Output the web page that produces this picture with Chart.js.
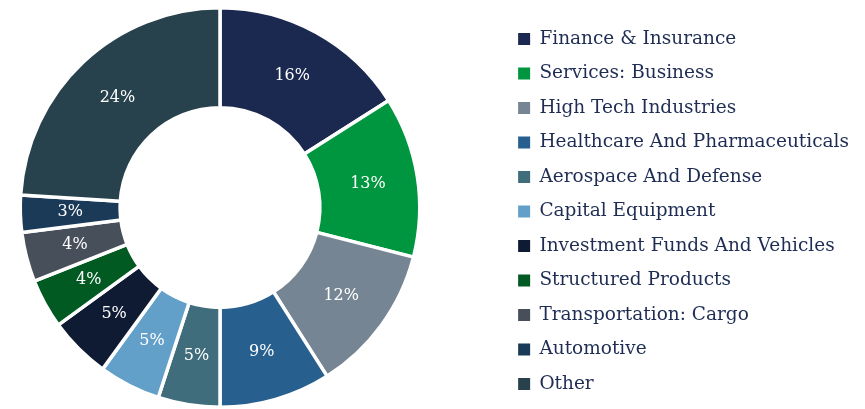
<!DOCTYPE html>
<html>
<head>
<meta charset="utf-8">
<script src="https://cdn.jsdelivr.net/npm/chart.js@4.4.1/dist/chart.umd.min.js"></script>
<style>
    html, body { margin: 0; padding: 0; background: #ffffff; }
    #wrap { width: 865px; height: 409px; }
</style>
</head>
<body>
<div id="wrap"><canvas id="myChart" width="865" height="409"></canvas></div>
<script>
var sectors = [
    "Finance & Insurance",
    "Services: Business",
    "High Tech Industries",
    "Healthcare And Pharmaceuticals",
    "Aerospace And Defense",
    "Capital Equipment",
    "Investment Funds And Vehicles",
    "Structured Products",
    "Transportation: Cargo",
    "Automotive",
    "Other"
];
var shares = [16, 13, 12, 9, 5, 5, 5, 4, 4, 3, 24];
var colors = [
    "#1b2951", "#00963f", "#768593", "#27608f", "#3f6d7b", "#62a0ca",
    "#0f1a33", "#005a22", "#474f5a", "#1b3a58", "#28424d"
];

// keep the ring on the left half, nudge the legend down a little
var ringArea = {
    id: "ringArea",
    afterLayout: function (chart) {
        var a = chart.chartArea;
        a.left = 0;
        a.right = 440;
        a.width = 440;
        chart.legend.top += 4;
        chart.legend.bottom += 4;
    }
};

var sliceLabels = {
    id: "sliceLabels",
    afterDatasetsDraw: function (chart) {
        var ctx = chart.ctx;
        var meta = chart.getDatasetMeta(0);
        ctx.save();
        ctx.fillStyle = "#ffffff";
        ctx.font = "16px 'DejaVu Serif'";
        ctx.textAlign = "center";
        ctx.textBaseline = "middle";
        meta.data.forEach(function (arc, i) {
            var p = arc.tooltipPosition();
            ctx.fillText(shares[i] + "%", p.x, p.y);
        });
        ctx.restore();
    }
};

var baseLabels = Chart.overrides.doughnut.plugins.legend.labels.generateLabels;

var myChart = document.getElementById("myChart").getContext("2d");
var chart = new Chart(myChart, {
    type: "doughnut",
    data: {
        labels: sectors,
        datasets: [
            {
                data: shares,
                backgroundColor: colors,
                borderColor: "#ffffff",
                borderWidth: 3.5,
                hoverOffset: 0
            }
        ]
    },
    options: {
        responsive: false,
        animation: false,
        cutout: "50%",
        layout: {
            padding: { left: 0, right: 6, top: 6, bottom: 0 }
        },
        plugins: {
            tooltip: { enabled: false },
            legend: {
                position: "right",
                align: "center",
                labels: {
                    boxWidth: 12,
                    boxHeight: 12,
                    padding: 16,
                    color: "#1f2d54",
                    font: { family: "'DejaVu Serif'", size: 18.5 },
                    generateLabels: function (c) {
                        var items = baseLabels(c);
                        items.forEach(function (it) { it.lineWidth = 0; });
                        return items;
                    }
                }
            }
        }
    },
    plugins: [ringArea, sliceLabels]
});
</script>
</body>
</html>
